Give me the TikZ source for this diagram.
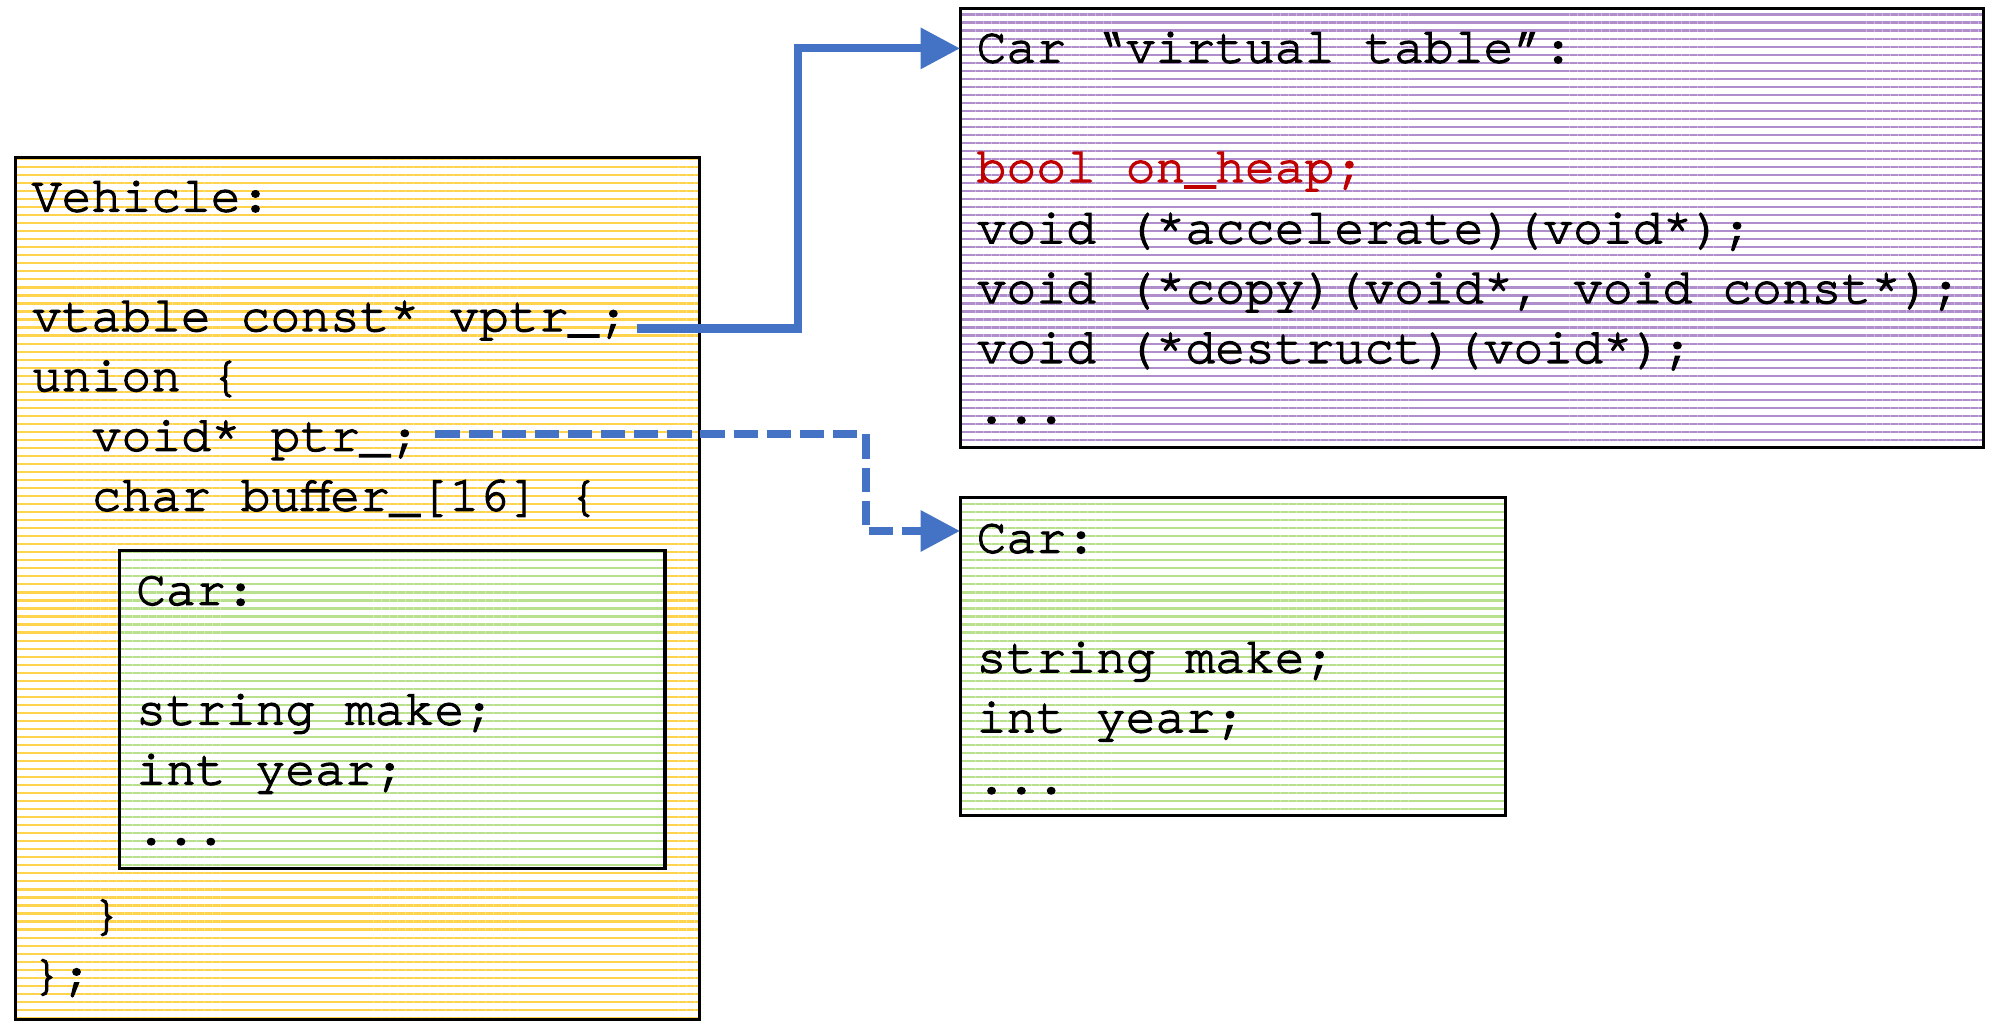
\documentclass[tikz,border=0pt]{standalone}
\usepackage{fontspec}
\newfontfamily\codefont{texgyrecursor-regular.otf}[FakeBold=2.6]
\usetikzlibrary{arrows.meta,patterns.meta}
\definecolor{arrblue}{HTML}{4472C4}
\definecolor{hred}{HTML}{C00000}
\definecolor{pyel}{HTML}{FFC000}
\definecolor{pgrn}{HTML}{92D050}
\definecolor{ppur}{HTML}{7030A0}
\tikzset{
  codebox/.style={draw=black, line width=0.7pt, anchor=north west, inner sep=0pt, outer sep=0pt,
    preaction={fill=white}},
  hatch/.style={pattern={Lines[angle=0,distance=0.063cm,line width=0.017cm]}, pattern color=#1},
  code/.style={anchor=base west, inner sep=0pt, outer sep=0pt, font=\codefont\fontsize{11.1}{13.4}\selectfont},
  ptr/.style={draw=arrblue, line width=1.8pt, line join=miter, -{Triangle[length=0.31cm,width=0.31cm]}},
  ptrdash/.style={ptr, dash pattern=on 0.19cm off 0.07cm}
}
\begin{document}
\begin{tikzpicture}[x=0.01cm,y=-0.01cm]
\useasboundingbox (0,0) rectangle (1566,812);
% boxes
\node[codebox, hatch=pyel!70!white, minimum width=5.37cm, minimum height=6.76cm] (veh) at (12,124) {};
\node[codebox, hatch=pgrn!65!white, minimum width=4.28cm, minimum height=2.50cm] (inner) at (94,432) {};
\node[codebox, hatch=ppur!55!white, minimum width=8.03cm, minimum height=3.44cm] (vt) at (754,7) {};
\node[codebox, hatch=pgrn!65!white, minimum width=4.28cm, minimum height=2.49cm] (car) at (754,391) {};
% Vehicle text
\node[code] (v1) at (25,166) {Vehicle:};
\node[code] (v2) at (25,260) {vtable const* vptr\_;};
\node[code] (v3) at (25,307) {union \{};
\node[code] (v4) at (72,354) {void* ptr\_;};
\node[code] (v5) at (72,401) {char buffer\_[16] \{};
\node[code] (v6) at (72,730) {\}};
\node[code] (v7) at (25,777) {\};};
% inner Car text
\node[code] (i1) at (107,475) {Car:};
\node[code] (i2) at (107,569) {string make;};
\node[code] (i3) at (107,616) {int year;};
\node[code] (i4) at (107,663) {...};
% vtable text
\node[code] (t1) at (767,49) {Car “virtual table”:};
\node[code, text=hred] (t2) at (767,143) {bool on\_heap;};
\node[code] (t3) at (767,191) {void (*accelerate)(void*);};
\node[code] (t4) at (767,238) {void (*copy)(void*, void const*);};
\node[code] (t5) at (767,285) {void (*destruct)(void*);};
\node[code] (t6) at (767,332) {...};
% right Car text
\node[code] (c1) at (767,434) {Car:};
\node[code] (c2) at (767,528) {string make;};
\node[code] (c3) at (767,575) {int year;};
\node[code] (c4) at (767,623) {...};
% connectors
\coordinate (vpstart) at (500,258);
\coordinate (vtin) at (754,38);
\coordinate (pstart) at (342,341);
\coordinate (pbend) at (680,417);
\coordinate (carin) at (754,417);
\draw[ptr] (vpstart) -| (627,38) -- (vtin);
\draw[ptrdash] (pstart) -| (pbend) -- (carin);
\end{tikzpicture}
\end{document}
